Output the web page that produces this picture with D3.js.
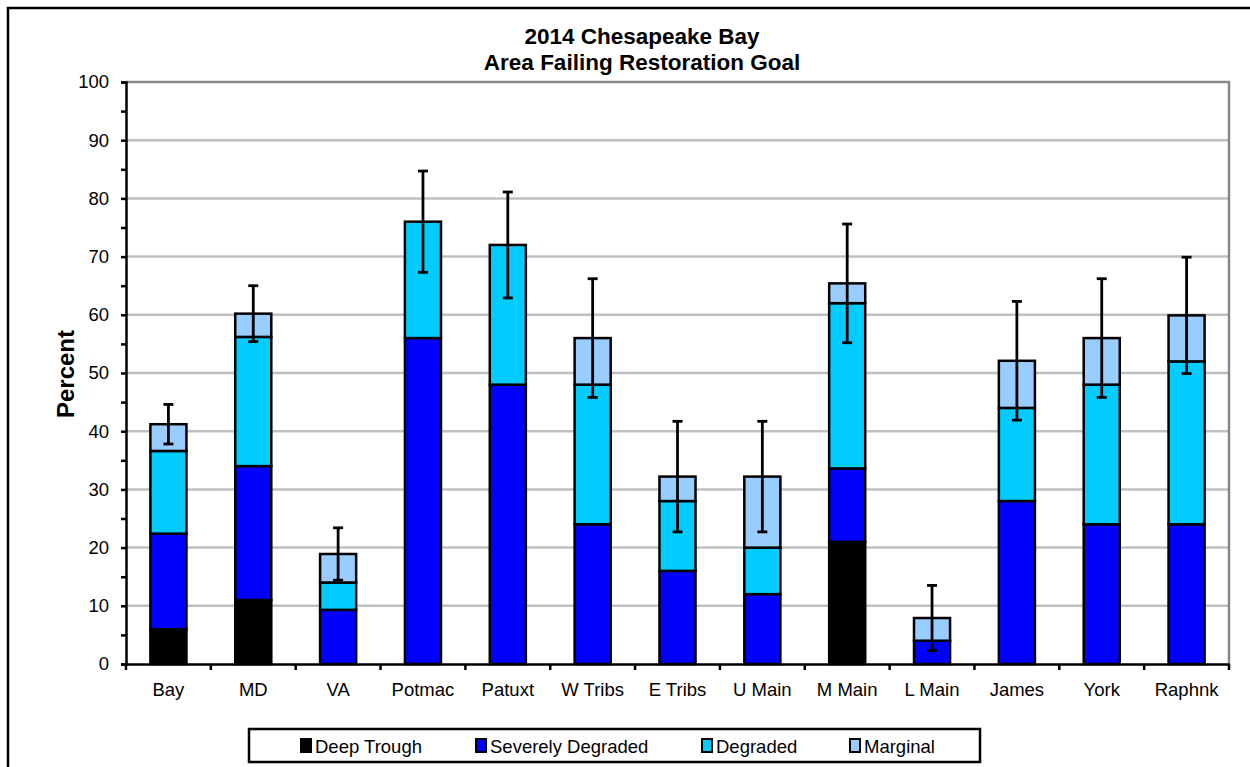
<!DOCTYPE html>
<html>
<head>
<meta charset="utf-8">
<script src="https://cdn.jsdelivr.net/npm/d3@7"></script>
<style>
  html, body { margin: 0; padding: 0; background: #fff; }
  svg { display: block; font-family: "Liberation Sans", Arial, sans-serif; }
</style>
</head>
<body>
<svg id="chart" width="1250" height="767"></svg>
<script>
// Share of area failing the restoration goal, by segment and severity class (percent)
const categories = ["Bay", "MD", "VA", "Potmac", "Patuxt", "W Tribs", "E Tribs", "U Main", "M Main", "L Main", "James", "York", "Raphnk"];
const deepTrough = [6, 11, 0, 0, 0, 0, 0, 0, 21, 0, 0, 0, 0];
const severelyDegraded = [16.4, 23, 9.3, 56, 48, 24, 16, 12, 12.6, 4, 28, 24, 24];
const degraded = [14.2, 22.2, 4.7, 20, 24, 24, 12, 8, 28.4, 0, 16, 24, 28];
const marginal = [4.6, 4, 4.9, 0, 0, 8, 4.2, 12.2, 3.4, 3.9, 8.1, 8, 7.9];
const errorMargin = [3.4, 4.8, 4.5, 8.7, 9.1, 10.2, 9.5, 9.5, 10.2, 5.6, 10.2, 10.2, 10];
const seriesNames = ["Deep Trough", "Severely Degraded", "Degraded", "Marginal"];
const seriesColors = ["#000000", "#0000ff", "#00ccff", "#99ccff"];
const yTicks = [0, 10, 20, 30, 40, 50, 60, 70, 80, 90, 100];
const titleLines = ["2014 Chesapeake Bay", "Area Failing Restoration Goal"];

const svg = d3.select("#chart");
const plot = { left: 126, right: 1229, top: 82, bottom: 664 };

// Outer chart frame (runs past the page edge on the right and bottom)
svg.append("rect")
  .attr("x", 8).attr("y", 8).attr("width", 1260).attr("height", 780)
  .attr("fill", "#fff").attr("stroke", "#000").attr("stroke-width", 2.5);

const x = d3.scaleBand().domain(categories).range([plot.left, plot.right]).padding(0);
const y = d3.scaleLinear().domain([0, 100]).range([plot.bottom, plot.top]);
const barW = x.bandwidth() * 0.425;

// Gridlines
svg.append("g").selectAll("line")
  .data(yTicks.filter(t => t > 0 && t < 100))
  .join("line")
  .attr("x1", plot.left).attr("x2", plot.right)
  .attr("y1", d => y(d)).attr("y2", d => y(d))
  .attr("stroke", "#c0c0c0").attr("stroke-width", 2.5);

// Plot area border: top and right
svg.append("path")
  .attr("d", `M${plot.left},${y(100)}H${plot.right}V${plot.bottom}`)
  .attr("fill", "none").attr("stroke", "#878787").attr("stroke-width", 2.5);

// Stack the four severity classes
const rows = categories.map((c, i) => ({
  cat: c,
  "Deep Trough": deepTrough[i],
  "Severely Degraded": severelyDegraded[i],
  "Degraded": degraded[i],
  "Marginal": marginal[i],
  err: errorMargin[i]
}));
const stacked = d3.stack().keys(seriesNames)(rows);

svg.append("g").selectAll("g")
  .data(stacked)
  .join("g")
  .attr("fill", (d, i) => seriesColors[i])
  .selectAll("rect")
  .data(d => d.filter(s => s[1] - s[0] > 0))
  .join("rect")
  .attr("x", d => x(d.data.cat) + (x.bandwidth() - barW) / 2)
  .attr("width", barW)
  .attr("y", d => y(d[1]))
  .attr("height", d => y(d[0]) - y(d[1]))
  .attr("stroke", "#000").attr("stroke-width", 2.5);

// Error bars centred on each stacked total
const totals = rows.map(r => seriesNames.reduce((s, k) => s + r[k], 0));
const eb = svg.append("g").attr("stroke", "#000").attr("stroke-width", 2.8);
rows.forEach((r, i) => {
  const cx = x(r.cat) + x.bandwidth() / 2;
  const hi = y(totals[i] + r.err), lo = y(totals[i] - r.err);
  eb.append("line").attr("x1", cx).attr("x2", cx).attr("y1", hi).attr("y2", lo);
  eb.append("line").attr("x1", cx - 5).attr("x2", cx + 5).attr("y1", hi).attr("y2", hi);
  eb.append("line").attr("x1", cx - 5).attr("x2", cx + 5).attr("y1", lo).attr("y2", lo);
});

// Y axis with minor ticks at every 5
const yAxis = d3.axisLeft(y).tickValues(d3.range(0, 101, 5)).tickSize(5)
  .tickFormat(d => (d % 10 === 0 ? d : ""));
const gy = svg.append("g").attr("transform", `translate(${plot.left},0)`).call(yAxis);
gy.select(".domain").attr("stroke", "#000").attr("stroke-width", 2.5);
gy.selectAll(".tick line").attr("stroke", "#000").attr("stroke-width", 2.5);
gy.selectAll(".tick text").attr("x", -17).attr("font-size", 18.5)
  .attr("font-family", "Liberation Sans, Arial, sans-serif").attr("fill", "#000");

// X axis with ticks between categories
const xAxis = d3.axisBottom(x).tickSize(0).tickPadding(19);
const gx = svg.append("g").attr("transform", `translate(0,${plot.bottom})`).call(xAxis);
gx.select(".domain").attr("stroke", "#000").attr("stroke-width", 2.5);
gx.selectAll(".tick text").attr("font-size", 18.5)
  .attr("font-family", "Liberation Sans, Arial, sans-serif").attr("fill", "#000");
const bounds = categories.map(c => x(c)).concat([plot.right]);
svg.append("g").selectAll("line").data(bounds).join("line")
  .attr("x1", d => d).attr("x2", d => d)
  .attr("y1", plot.bottom).attr("y2", plot.bottom + 6)
  .attr("stroke", "#000").attr("stroke-width", 2.5);

// Title, two lines
svg.append("g").selectAll("text").data(titleLines).join("text")
  .attr("x", 642).attr("y", (d, i) => 44 + i * 26)
  .attr("text-anchor", "middle").attr("font-size", 22.5).attr("font-weight", "bold")
  .text(d => d);

// Y axis title
svg.append("text")
  .attr("transform", "translate(74,374) rotate(-90)")
  .attr("text-anchor", "middle").attr("font-size", 24).attr("font-weight", "bold")
  .text("Percent");

// Legend
svg.append("rect")
  .attr("x", 249).attr("y", 729).attr("width", 731).attr("height", 33)
  .attr("fill", "#fff").attr("stroke", "#000").attr("stroke-width", 2.5);
const legendX = [301, 476, 702, 850];
const lg = svg.append("g").selectAll("g").data(seriesNames).join("g")
  .attr("transform", (d, i) => `translate(${legendX[i]},746)`);
lg.append("rect")
  .attr("x", 0).attr("y", -7).attr("width", 10).attr("height", 13)
  .attr("fill", (d, i) => seriesColors[i]).attr("stroke", "#000").attr("stroke-width", 2);
lg.append("text")
  .attr("x", 14).attr("y", 6.5).attr("font-size", 18.5)
  .text(d => d);
</script>
</body>
</html>
